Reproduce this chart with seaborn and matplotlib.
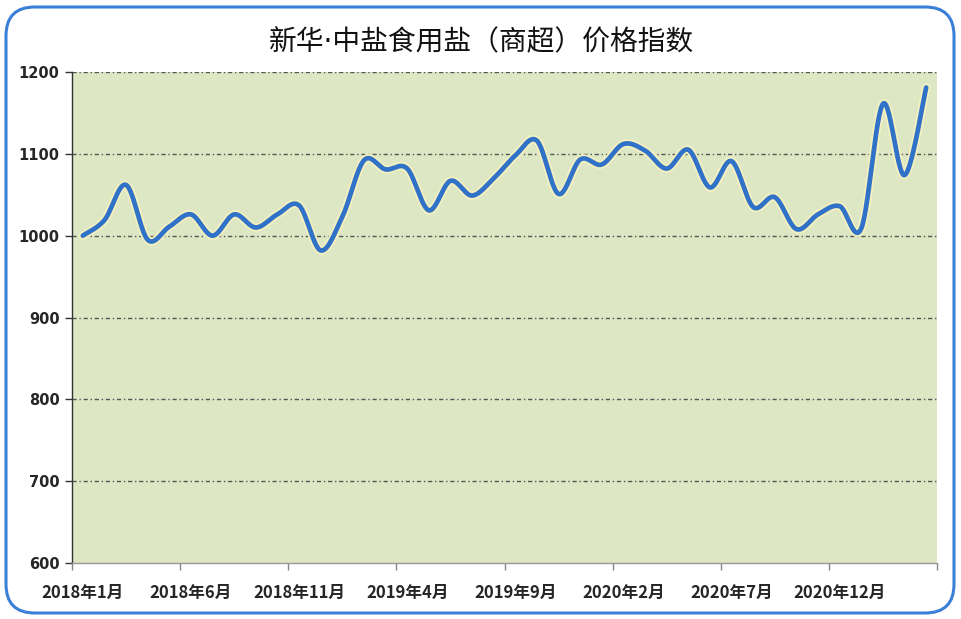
import numpy as np
import pandas as pd
import matplotlib
matplotlib.use("Agg")
import matplotlib.pyplot as plt
import matplotlib.patheffects as pe
from matplotlib.patches import FancyBboxPatch
import seaborn as sns

# ---- data ----
months = [f"{y}年{m}月" for y in (2018, 2019, 2020, 2021) for m in range(1, 13)][:40]
values = [1000, 1019, 1062, 995, 1011, 1026, 1000, 1026, 1010, 1026,
          1037, 982, 1023, 1092, 1081, 1082, 1031, 1067, 1049, 1070,
          1098, 1116, 1051, 1093, 1087, 1112, 1104, 1082, 1105, 1059,
          1091, 1035, 1047, 1008, 1026, 1036, 1009, 1161, 1074, 1181]
yticks = [600, 700, 800, 900, 1000, 1100, 1200]
title = "新华·中盐食用盐（商超）价格指数"

sns.set_theme(style="white")
plt.rcParams['font.family'] = ['Noto Sans CJK SC', 'DejaVu Sans']

fig = plt.figure(figsize=(9.61, 6.19), dpi=100)
ax = fig.add_axes([72/961, 1-563/619, (937-72)/961, (563-72)/619])

# smoothed (Excel-like Bezier / Catmull-Rom) rendering of the series
x = np.arange(len(values), dtype=float)
y = np.array(values, dtype=float)
px = np.concatenate([[x[0]], x, [x[-1]]])
py = np.concatenate([[y[0]], y, [y[-1]]])
xs, ys = [], []
t = np.linspace(0, 1, 30)
for i in range(len(x) - 1):
    p0 = np.array([x[i], y[i]])
    p3 = np.array([x[i+1], y[i+1]])
    p1 = p0 + (np.array([px[i+2], py[i+2]]) - np.array([px[i], py[i]])) / 6
    p2 = p3 - (np.array([px[i+3], py[i+3]]) - np.array([px[i+1], py[i+1]])) / 6
    tt = t[:, None]
    b = (1-tt)**3*p0 + 3*(1-tt)**2*tt*p1 + 3*(1-tt)*tt**2*p2 + tt**3*p3
    xs.extend(b[:, 0]); ys.extend(b[:, 1])
df = pd.DataFrame({"x": xs, "y": ys})

ax.set_facecolor("#dde7c4")
for v in yticks[1:]:
    ax.axhline(v, color="#555555", lw=1.0, ls=(0, (3, 2, 1, 2)), zorder=1)

sns.lineplot(data=df, x="x", y="y", ax=ax, color="#2f72c8", lw=3.4, sort=False,
             zorder=3, estimator=None,
             path_effects=[pe.Stroke(linewidth=6.0, foreground="#f4f0bf"), pe.Normal()])

ax.set_xlim(-0.5, len(values) - 0.5)
ax.set_ylim(600, 1200)
ax.set_yticks(yticks)
ax.set_yticklabels([str(v) for v in yticks], fontsize=10.5, fontweight="bold",
                   family=['DejaVu Sans'])
ax.set_xticks(np.arange(-0.5, len(values), 5))
ax.set_xticklabels([])
ax.set_xticks(np.arange(0, len(values), 5), minor=True)
ax.set_xticklabels([months[i] for i in range(0, len(values), 5)], minor=True,
                   fontsize=12, fontweight="bold")
ax.tick_params(axis="x", which="major", length=5, width=1, color="#888888", direction="out", bottom=True)
ax.tick_params(axis="x", which="minor", length=0, pad=15)
ax.tick_params(axis="y", length=5, width=1, color="#333333", direction="out", left=True, pad=4)
ax.set_xlabel(""); ax.set_ylabel("")
for s in ("top", "right"):
    ax.spines[s].set_visible(False)
ax.spines["left"].set_color("#333333")
ax.spines["left"].set_linewidth(1)
ax.spines["bottom"].set_color("#999999")
ax.spines["bottom"].set_linewidth(1)

fig.text(481/961, 1-42/619, title, ha="center", va="center", fontsize=20, color="#111111",
         family=['DejaVu Sans', 'Noto Sans CJK SC'])

box = FancyBboxPatch((6/961, 6/619), (954-6)/961, (612-6)/619,
                     boxstyle="round,pad=0,rounding_size=0.03",
                     transform=fig.transFigure, fill=False, ec="#3a7fd8", lw=2.2,
                     mutation_aspect=961/619)
fig.patches.append(box)

fig.savefig("out.png", dpi=100)
